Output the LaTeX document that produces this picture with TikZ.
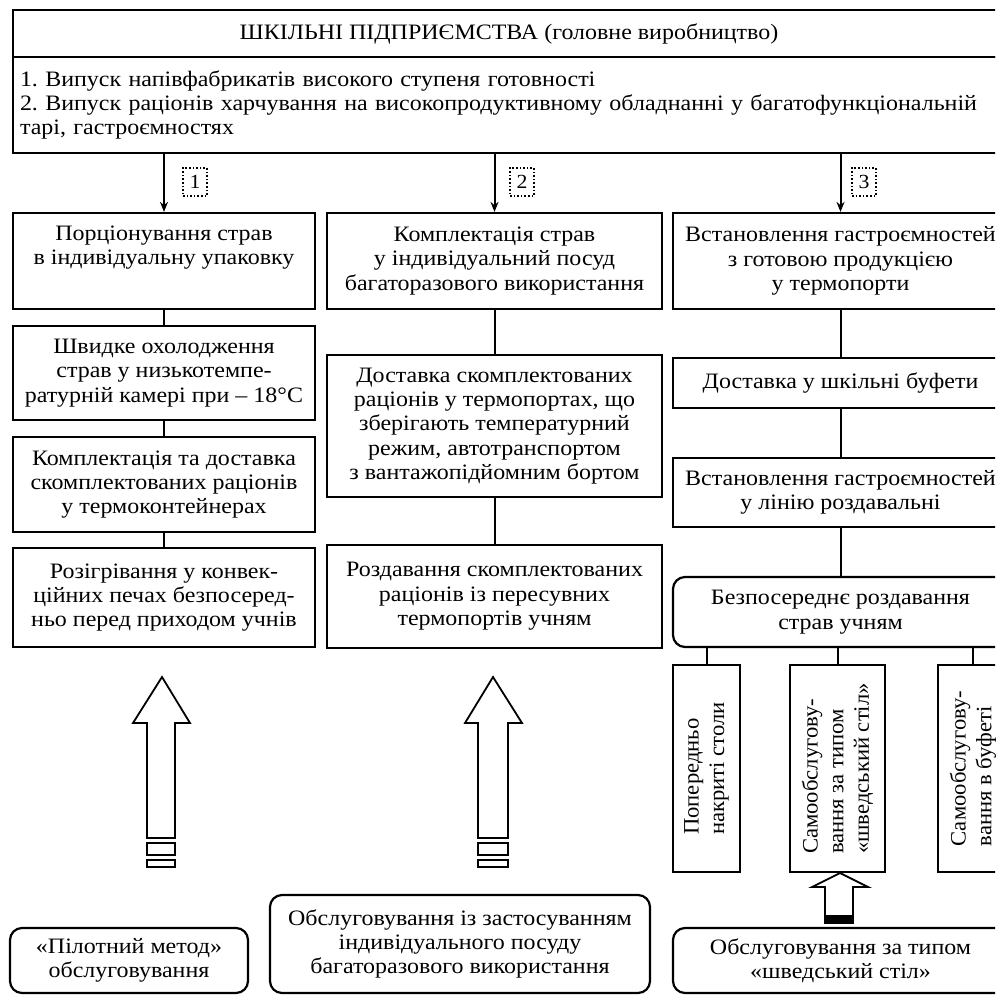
\documentclass[tikz,border=0pt]{standalone}
\usepackage{fontspec}
\setmainfont[FakeStretch=1.09]{Liberation Serif}
\newfontfamily\vfont[FakeStretch=1.03]{Liberation Serif}
\usetikzlibrary{arrows.meta}
\frenchspacing
\newcommand{\fsz}{\fontsize{11}{12.2}\selectfont}
\tikzset{
  box/.style={draw, line width=1.1pt, align=center, inner sep=2pt, font=\fsz},
  rbox/.style={box, rounded corners=6pt},
  conn/.style={line width=1pt},
  arr/.style={line width=1pt, -{Stealth[length=5pt,width=4pt]}},
  numbox/.style={draw, densely dotted, line width=0.8pt, minimum width=12pt, minimum height=14pt, inner sep=0pt, font=\fontsize{10}{10}\selectfont},
  hollow/.style={draw, line width=0.9pt, fill=white},
  vbox/.style={box, rotate=90, align=left, inner xsep=6pt, minimum width=103.5pt, font=\vfont\fontsize{11}{12.8}\selectfont},
}
\begin{document}
\begin{tikzpicture}[x=0.5pt,y=-0.5pt]
\useasboundingbox (0,0) rectangle (995,995);
\clip (0,0) rectangle (995,995);

% top block
\node[box, minimum width=496pt, minimum height=23.5pt] (title) at (509,33.5)
  {ШКІЛЬНІ ПІДПРИЄМСТВА (головне виробництво)};
\node[box, minimum width=496pt, minimum height=48pt, text width=489pt, inner xsep=3.5pt, align=left] (body) at (509,105)
  {1. Випуск напівфабрикатів високого ступеня готовності\\
   2. Випуск раціонів харчування на високопродуктивному обладнанні у багатофункціональній\\
   тарі, гастроємностях};

% column 1
\node[box, minimum width=151pt, minimum height=48pt] (c1a) at (164,261)
  {Порціонування страв\\в індивідуальну упаковку\\\strut};
\node[box, minimum width=151pt, minimum height=47pt] (c1b) at (164,373)
  {Швидке охолодження\\страв у низькотемпе-\\ратурній камері при – 18°C};
\node[box, minimum width=151pt, minimum height=47.5pt] (c1c) at (164,484.5)
  {Комплектація та доставка\\скомплектованих раціонів\\у термоконтейнерах};
\node[box, minimum width=151pt, minimum height=49.5pt] (c1d) at (164,597.5)
  {Розігрівання у конвек-\\ційних печах безпосеред-\\ньо перед приходом учнів};

% column 2
\node[box, minimum width=167.5pt, minimum height=48pt] (c2a) at (494.5,261)
  {Комплектація страв\\у індивідуальний посуд\\багаторазового використання};
\node[box, minimum width=167.5pt, minimum height=71pt] (c2b) at (494.5,426)
  {Доставка скомплектованих\\раціонів у термопортах, що\\зберігають температурний\\режим, автотранспортом\\з вантажопідйомним бортом};
\node[box, minimum width=167.5pt, minimum height=51.5pt] (c2c) at (494.5,596.5)
  {Роздавання скомплектованих\\раціонів із пересувних\\термопортів учням};

% column 3
\node[box, minimum width=167.5pt, minimum height=48pt] (c3a) at (840.5,261)
  {Встановлення гастроємностей\\з готовою продукцією\\у термопорти};
\node[box, minimum width=167.5pt, minimum height=25pt] (c3b) at (840.5,383)
  {Доставка у шкільні буфети};
\node[box, minimum width=167.5pt, minimum height=34.5pt] (c3c) at (840.5,492.5)
  {Встановлення гастроємностей\\у лінію роздавальні};
\node[rbox, minimum width=167.5pt, minimum height=35pt] (c3d) at (840.5,612)
  {Безпосереднє роздавання\\страв учням};

\node[vbox, minimum height=33.5pt] (va) at (706.5,768.5)
  {Попередньо\\накриті столи};
\node[vbox, minimum height=47.5pt] (vb) at (837.5,768.5)
  {Самообслугову-\\вання за типом\\«шведський стіл»};
\node[vbox, minimum height=35pt] (vc) at (973,768.5)
  {Самообслугову-\\вання в буфеті};

% bottom boxes
\node[rbox, minimum width=119pt, minimum height=32.5pt] (b1) at (129,960.5)
  {«Пілотний метод»\\обслуговування};
\node[rbox, minimum width=190pt, minimum height=49pt] (b2) at (460,944)
  {Обслуговування із застосуванням\\індивідуального посуду\\багаторазового використання};
\node[rbox, minimum width=167.5pt, minimum height=32.5pt] (b3) at (840.5,960.5)
  {Обслуговування за типом\\«шведський стіл»};

% arrows from top
\draw[arr] (c1a.north |- body.south) -- (c1a.north);
\draw[arr] (c2a.north |- body.south) -- (c2a.north);
\draw[arr] (c3a.north |- body.south) -- (c3a.north);
\node[numbox] (n1) at (195,182) {1};
\node[numbox] (n2) at (522,182) {2};
\node[numbox] (n3) at (864,182) {3};

% connectors
\draw[conn] (c1a.south) -- (c1b.north);
\draw[conn] (c1b.south) -- (c1c.north);
\draw[conn] (c1c.south) -- (c1d.north);
\draw[conn] (c2a.south) -- (c2b.north);
\draw[conn] (c2b.south) -- (c2c.north);
\draw[conn] (c3a.south) -- (c3b.north);
\draw[conn] (c3b.south) -- (c3c.north);
\draw[conn] (c3c.south) -- (c3d.north);
\draw[conn] (va.east |- c3d.south) -- (va.east);
\draw[conn] (vb.east |- c3d.south) -- (vb.east);
\draw[conn] (vc.east |- c3d.south) -- (vc.east);

% hollow block arrows
\draw[hollow] (147,838) -- (147,723) -- (133,723) -- (162,677) -- (190,723) -- (175,723) -- (175,838) -- cycle;
\draw[hollow] (147,843) rectangle (175,855);
\draw[hollow] (147,860) rectangle (175,867);
\draw[hollow] (478,838) -- (478,723) -- (465,723) -- (493,677) -- (522,723) -- (508,723) -- (508,838) -- cycle;
\draw[hollow] (478,843) rectangle (508,855);
\draw[hollow] (478,860) rectangle (508,867);
\draw[hollow] (825,923) -- (825,887) -- (812,887) -- (840,873) -- (868,887) -- (853,887) -- (853,923) -- cycle;
\fill (825,915) rectangle (853,923);
\end{tikzpicture}
\end{document}
